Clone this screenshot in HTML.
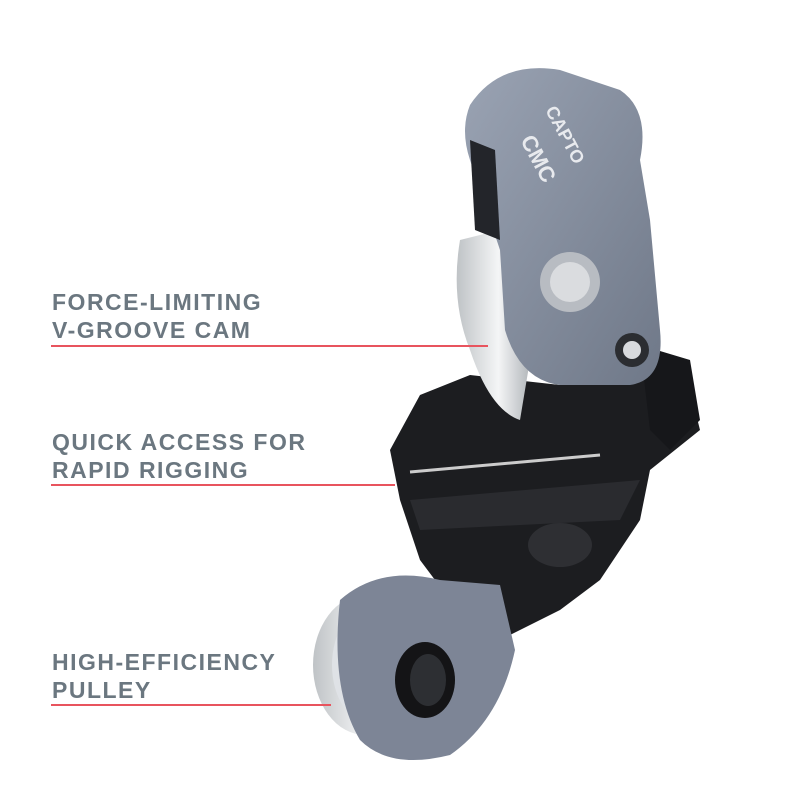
<!DOCTYPE html>
<html><head><meta charset="utf-8"><style>
html,body{margin:0;padding:0;background:#fff}
.w{position:relative;width:801px;height:800px;overflow:hidden}
svg{position:absolute;left:0;top:0}
.t{position:absolute;left:52px;font:bold 23px/28px "Liberation Sans",sans-serif;color:#6b7780;letter-spacing:1.5px}
.l{position:absolute;left:51px;height:2px;background:#e8545e}
</style></head><body><div class="w">
<svg width="801" height="800">
<defs>
<linearGradient id="g1" x1="0" y1="0" x2="1" y2="1"><stop offset="0" stop-color="#9aa3b3"/><stop offset="1" stop-color="#6f7888"/></linearGradient>
<linearGradient id="s1" x1="0" y1="0" x2="1" y2="0"><stop offset="0" stop-color="#bfc3c6"/><stop offset=".5" stop-color="#f4f5f6"/><stop offset="1" stop-color="#9ea3a8"/></linearGradient>
</defs>
<path d="M420,395 L470,375 L560,385 L640,375 L690,390 L700,430 L650,470 L640,520 L600,580 L560,610 L500,640 L450,600 L420,560 L400,500 L390,450 Z" fill="#1c1d20"/>
<path d="M640,345 L690,360 L700,420 L670,450 L650,430 Z" fill="#16171a"/>
<path d="M410,500 L640,480 L620,520 L420,530 Z" fill="#2a2b2f"/>
<line x1="410" y1="472" x2="600" y2="455" stroke="#ccc" stroke-width="3"/>
<ellipse cx="560" cy="545" rx="32" ry="22" fill="#2e2f33"/>
<path d="M460,240 Q450,300 470,350 Q490,410 520,420 L540,300 L500,230 Z" fill="url(#s1)"/>
<path d="M470,105 Q500,60 560,70 L620,90 Q650,110 640,160 L650,220 L660,330 Q665,380 630,385 L560,385 Q520,380 505,330 L500,250 L470,160 Q460,130 470,105 Z" fill="url(#g1)"/>
<path d="M470,140 L495,150 L500,240 L475,230 Z" fill="#23252a"/>
<circle cx="570" cy="282" r="30" fill="#b8bcc2"/><circle cx="570" cy="282" r="20" fill="#dadcdf"/>
<circle cx="632" cy="350" r="17" fill="#2b2d31"/><circle cx="632" cy="350" r="9" fill="#d8dadd"/>
<text x="520" y="140" font-family="Liberation Sans,sans-serif" font-weight="bold" font-size="22" fill="#e8eaee" transform="rotate(62 520 140)">CMC</text>
<text x="545" y="110" font-family="Liberation Sans,sans-serif" font-weight="bold" font-size="18" fill="#e8eaee" transform="rotate(62 545 110)">CAPTO</text>
<ellipse cx="365" cy="665" rx="52" ry="70" fill="url(#s1)"/>
<ellipse cx="370" cy="665" rx="38" ry="58" fill="#dfe2e6"/>
<path d="M340,600 Q380,565 440,580 L500,585 L515,650 Q500,720 450,755 Q390,770 360,740 Q330,690 340,600 Z" fill="#7d8596"/>
<ellipse cx="425" cy="680" rx="30" ry="38" fill="#141416"/>
<ellipse cx="428" cy="680" rx="18" ry="26" fill="#2d2f33"/>
</svg>
<div class="t" style="top:288px">FORCE-LIMITING<br>V-GROOVE CAM</div>
<div class="l" style="top:345px;width:437px"></div>
<div class="t" style="top:428px">QUICK ACCESS FOR<br>RAPID RIGGING</div>
<div class="l" style="top:484px;width:344px"></div>
<div class="t" style="top:648px">HIGH-EFFICIENCY<br>PULLEY</div>
<div class="l" style="top:704px;width:280px"></div>
</div></body></html>
